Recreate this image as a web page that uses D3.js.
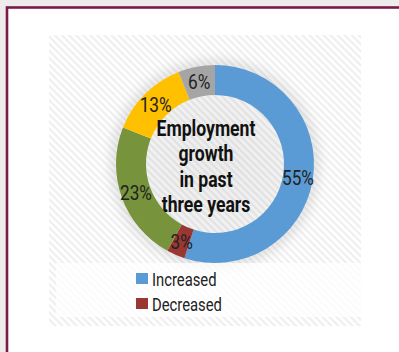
<!DOCTYPE html>
<html>
<head>
<meta charset="utf-8">
<script src="https://cdn.jsdelivr.net/npm/d3@7"></script>
<style>
  html, body { margin: 0; padding: 0; background: #eeebec; }
  svg { display: block; }
</style>
</head>
<body>
<script>
// Employment growth in past three years — share of responses
const categories = ["Increased", "Decreased", "Stayed the same", "Don't know", "No answer"];
const values = [55, 3, 23, 13, 6];
const colors = ["#5b9bd5", "#993833", "#77933c", "#ffc000", "#a5a5a5"];
const legendItems = ["Increased", "Decreased"];
const centerTitle = ["Employment", "growth", "in past", "three years"];

const W = 399, H = 352;
const svg = d3.select("body").append("svg").attr("width", W).attr("height", H);
const defs = svg.append("defs");

// diagonal hatch used for the plot area
const pat = defs.append("pattern")
  .attr("id", "hatch").attr("patternUnits", "userSpaceOnUse")
  .attr("width", 5).attr("height", 5)
  .attr("patternTransform", "rotate(45)");
pat.append("rect").attr("width", 5).attr("height", 5).attr("fill", "#ffffff");
pat.append("rect").attr("width", 5).attr("height", 2.2).attr("fill", "#efefef");

const glow = defs.append("radialGradient").attr("id", "glow");
glow.append("stop").attr("offset", "0%").attr("stop-color", "#000").attr("stop-opacity", 0.07);
glow.append("stop").attr("offset", "65%").attr("stop-color", "#000").attr("stop-opacity", 0.05);
glow.append("stop").attr("offset", "100%").attr("stop-color", "#000").attr("stop-opacity", 0);

const blur = defs.append("filter").attr("id", "soft").attr("x", "-30%").attr("y", "-30%").attr("width", "160%").attr("height", "160%");
blur.append("feGaussianBlur").attr("stdDeviation", 5);

// page frame
svg.append("rect").attr("x", 7).attr("y", 7.5).attr("width", W + 10).attr("height", H + 10)
  .attr("fill", "#ffffff").attr("stroke", "#7a1b47").attr("stroke-width", 2.6);

// plot area
const area = { x: 49, y: 35, w: 312, h: 291 };
svg.append("rect").attr("x", area.x).attr("y", area.y).attr("width", area.w).attr("height", area.h)
  .attr("fill", "url(#hatch)");

const cx = 215, cy = 164, rOuter = 99, rInner = 69;

svg.append("circle").attr("cx", cx).attr("cy", cy).attr("r", rOuter + 18)
  .attr("fill", "url(#glow)");

const g = svg.append("g").attr("transform", `translate(${cx},${cy})`);

// soft shadow behind the ring
g.append("circle").attr("r", rOuter + 1).attr("fill", "none")
  .attr("stroke", "#000").attr("stroke-opacity", 0.12).attr("stroke-width", 6)
  .attr("filter", "url(#soft)");

const pie = d3.pie().sort(null).value(d => d)(values);
const arc = d3.arc().innerRadius(rInner).outerRadius(rOuter);
const labelArc = d3.arc().innerRadius((rInner + rOuter) / 2).outerRadius((rInner + rOuter) / 2);

g.selectAll("path.slice").data(pie).join("path")
  .attr("class", "slice")
  .attr("d", arc)
  .attr("fill", (d, i) => colors[i]);

// narrow lettering: regular sans squeezed horizontally
const font = "'Liberation Sans Narrow', 'Arial Narrow', Roboto, sans-serif";
const squeeze = 0.82;

g.selectAll("text.pct").data(pie).join("text")
  .attr("class", "pct")
  .attr("transform", d => `translate(${labelArc.centroid(d)}) scale(${squeeze},1)`)
  .attr("text-anchor", "middle")
  .attr("dy", "0.36em")
  .attr("font-family", font)
  .attr("font-size", 21)
  .attr("fill", "#222")
  .text(d => d.data + "%");

// centre title, set slightly left of the ring centre
g.append("text")
  .attr("transform", `translate(-9,0) scale(0.8,1)`)
  .attr("text-anchor", "middle")
  .attr("font-family", font)
  .attr("font-size", 22)
  .attr("font-weight", "bold")
  .attr("fill", "#111")
  .selectAll("tspan").data(centerTitle).join("tspan")
  .attr("x", 0)
  .attr("y", (d, i) => -28 + i * 25.3)
  .text(d => d);

// legend
const lg = { x: 56, y: 263, w: 305, h: 54 };
svg.append("rect").attr("x", lg.x).attr("y", lg.y).attr("width", lg.w).attr("height", lg.h)
  .attr("fill", "#ffffff").attr("fill-opacity", 0.75);

const items = svg.selectAll("g.leg").data(legendItems).join("g")
  .attr("class", "leg")
  .attr("transform", (d, i) => `translate(136,${273 + i * 25})`);
items.append("rect").attr("width", 12).attr("height", 11)
  .attr("fill", d => colors[categories.indexOf(d)]);
items.append("text").attr("transform", `translate(16,12.5) scale(0.78,1)`)
  .attr("font-family", font).attr("font-size", 19).attr("fill", "#222")
  .text(d => d);
</script>
</body>
</html>
